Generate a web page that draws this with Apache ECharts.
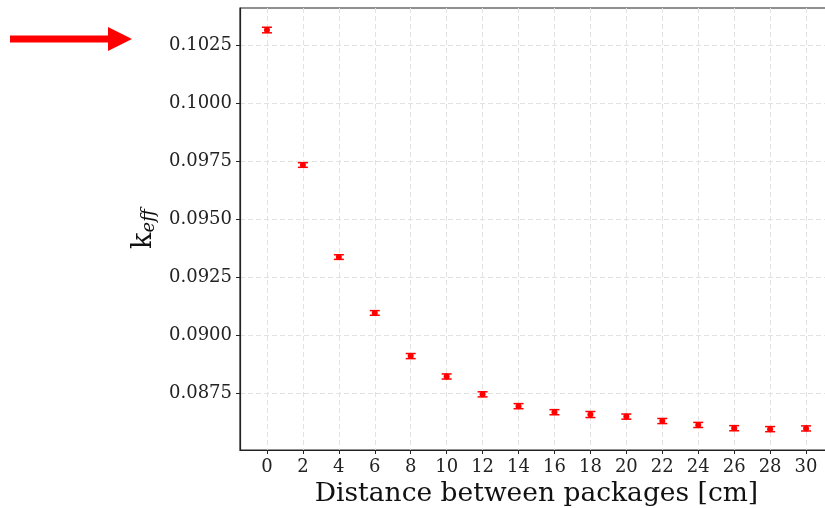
<!DOCTYPE html>
<html>
<head>
<meta charset="utf-8">
<script src="https://cdn.jsdelivr.net/npm/echarts@6/dist/echarts.min.js"></script>
<style>html,body{margin:0;padding:0;background:#fff}#c{width:825px;height:508px}</style>
</head>
<body>
<div id="c"></div>
<script>
var distances = [0, 2, 4, 6, 8, 10, 12, 14, 16, 18, 20, 22, 24, 26, 28, 30];
var keff = [0.10315, 0.09733, 0.09336, 0.09095, 0.08909, 0.08821, 0.08744, 0.08693, 0.08667, 0.08657, 0.08648, 0.08629, 0.08612, 0.08598, 0.08594, 0.08597];
var keffErr = [0.00012, 0.00010, 0.00010, 0.00010, 0.00011, 0.00011, 0.00011, 0.00011, 0.00011, 0.00013, 0.00011, 0.00011, 0.00011, 0.00011, 0.00011, 0.00011];
var xTicks = [0, 2, 4, 6, 8, 10, 12, 14, 16, 18, 20, 22, 24, 26, 28, 30];
var yTicks = [0.0875, 0.0900, 0.0925, 0.0950, 0.0975, 0.1000, 0.1025];
var xName = 'Distance between packages [cm]';

var chart = echarts.init(document.getElementById('c'), null, {renderer: 'canvas'});
var serif = 'DejaVu Serif';
var pts = distances.map(function (d, i) { return [d, keff[i], keffErr[i]]; });

chart.setOption({
  animation: false,
  backgroundColor: '#ffffff',
  grid: {
    left: 240, top: 8, bottom: 58, width: 593,
    containLabel: false, outerBoundsMode: 'none',
    show: true, borderColor: '#222', borderWidth: 1.2, backgroundColor: 'transparent'
  },
  xAxis: {
    type: 'value', min: -1.5, max: 31.5,
    name: xName, nameLocation: 'middle', nameGap: 31,
    nameTextStyle: {fontFamily: serif, fontSize: 26.5, color: '#111'},
    axisLine: {show: true, onZero: false, lineStyle: {color: '#222', width: 1.2}},
    axisTick: {show: true, inside: false, length: 4, customValues: xTicks, lineStyle: {color: '#222'}},
    axisLabel: {customValues: xTicks, fontFamily: serif, fontSize: 18, color: '#222', margin: 8},
    splitLine: {show: true, lineStyle: {color: '#e2e2e2', type: [5, 3], width: 1}}
  },
  yAxis: {
    type: 'value', min: 0.08504, max: 0.10410,
    name: '{k|k}{s|eff}', nameLocation: 'middle', nameRotate: 90, nameGap: 76,
    nameTextStyle: {
      rich: {
        k: {fontFamily: serif, fontSize: 27, color: '#111'},
        s: {fontFamily: serif, fontSize: 18, fontStyle: 'italic', color: '#111', padding: [10, 0, 0, 0]}
      }
    },
    axisLine: {show: true, onZero: false, lineStyle: {color: '#222', width: 1.2}},
    axisTick: {show: true, inside: false, length: 4, customValues: yTicks, lineStyle: {color: '#222'}},
    axisLabel: {customValues: yTicks, fontFamily: serif, fontSize: 18, color: '#222', margin: 8,
      formatter: function (v) { return v.toFixed(4); }},
    splitLine: {show: true, lineStyle: {color: '#e2e2e2', type: [5, 3], width: 1}}
  },
  graphic: [{
    type: 'polygon',
    shape: {points: [[10, 35.5], [108, 35.5], [108, 27], [132, 39], [108, 51], [108, 42.5], [10, 42.5]]},
    style: {fill: '#ff0000'}
  }],
  series: [{
    type: 'custom',
    data: pts,
    encode: {x: 0, y: 1},
    renderItem: function (params, api) {
      var x = api.value(0), y = api.value(1), e = api.value(2);
      var top = api.coord([x, y + e]);
      var bot = api.coord([x, y - e]);
      var c = api.coord([x, y]);
      var hw = 5;
      var st = {stroke: '#ff0000', lineWidth: 1.5};
      return {
        type: 'group',
        children: [
          {type: 'line', shape: {x1: top[0], y1: top[1], x2: bot[0], y2: bot[1]}, style: st},
          {type: 'line', shape: {x1: top[0] - hw, y1: top[1], x2: top[0] + hw, y2: top[1]}, style: st},
          {type: 'line', shape: {x1: bot[0] - hw, y1: bot[1], x2: bot[0] + hw, y2: bot[1]}, style: st},
          {type: 'circle', shape: {cx: c[0], cy: c[1], r: 3}, style: {fill: '#ff0000'}}
        ]
      };
    }
  }]
});
</script>
</body>
</html>
